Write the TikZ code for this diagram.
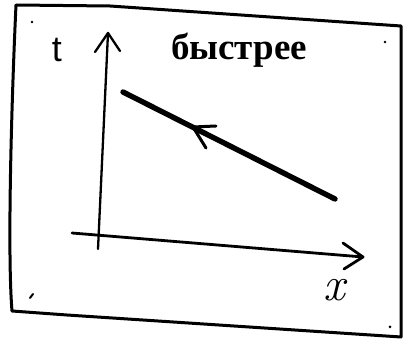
\documentclass[tikz,border=0pt]{standalone}
\usepackage{fontspec}
\newfontfamily\rusfont{Liberation Serif}
\newfontfamily\handsans{Liberation Sans}
\tikzset{
  frameline/.style={line width=3pt},
  axisline/.style={line width=2.3pt},
  xaxisline/.style={line width=2.8pt},
  mainline/.style={line width=5.4pt},
  tipline/.style={line width=3pt},
  dotmark/.style={line width=2pt},
  lbl/.style={inner sep=0pt, anchor=center}
}
\begin{document}
\begin{tikzpicture}[x=1pt,y=-1pt,line cap=round,line join=round]
\useasboundingbox (0,0) rectangle (408,342);
% frame
\coordinate (f1) at (16,5);
\coordinate (f2) at (110,6);
\coordinate (f3) at (401,26);
\coordinate (f4) at (401,337);
\coordinate (f5) at (67,315);
\coordinate (f6) at (12,311);
\draw[frameline] (f1) -- (f2) -- (f3) -- (f4) -- (f5) -- (f6)
  .. controls (7,250) and (12,90) .. (f1);
% corner marks
\fill (32,22) circle (1.4);
\fill (385,42) circle (1.4);
\draw[dotmark] (30,298) -- (33,294);
\fill (390,327) circle (1.5);
% axes
\coordinate (tbot) at (98,249);
\coordinate (ttop) at (108,33);
\coordinate (tl) at (95,52);
\coordinate (tr) at (120,51);
\draw[axisline] (tbot) -- (ttop);
\draw[axisline] (tl) -- (ttop) -- (tr);
\coordinate (xst) at (72,233);
\coordinate (xen) at (363,257);
\coordinate (xa) at (343,243);
\coordinate (xb) at (344,269);
\draw[xaxisline] (xst) -- (xen);
\draw[xaxisline] (xa) -- (xen) -- (xb);
% main line
\coordinate (ms) at (123,92);
\coordinate (me) at (335,199);
\draw[mainline] (ms) -- (me);
\coordinate (ah) at (193,127);
\coordinate (a1) at (216,126);
\coordinate (a2) at (206,148);
\draw[tipline] (a1) -- (ah) -- (a2);
% labels
\node[lbl] (tlab) at (57,50) {\handsans\fontsize{36}{36}\selectfont t};
\node[lbl] (xlab) at (334,290) {\itshape\fontsize{48}{48}\selectfont x};
\node[lbl] (title) at (239,50) {\rusfont\bfseries\fontsize{37}{37}\selectfont быстрее};
\end{tikzpicture}
\end{document}
